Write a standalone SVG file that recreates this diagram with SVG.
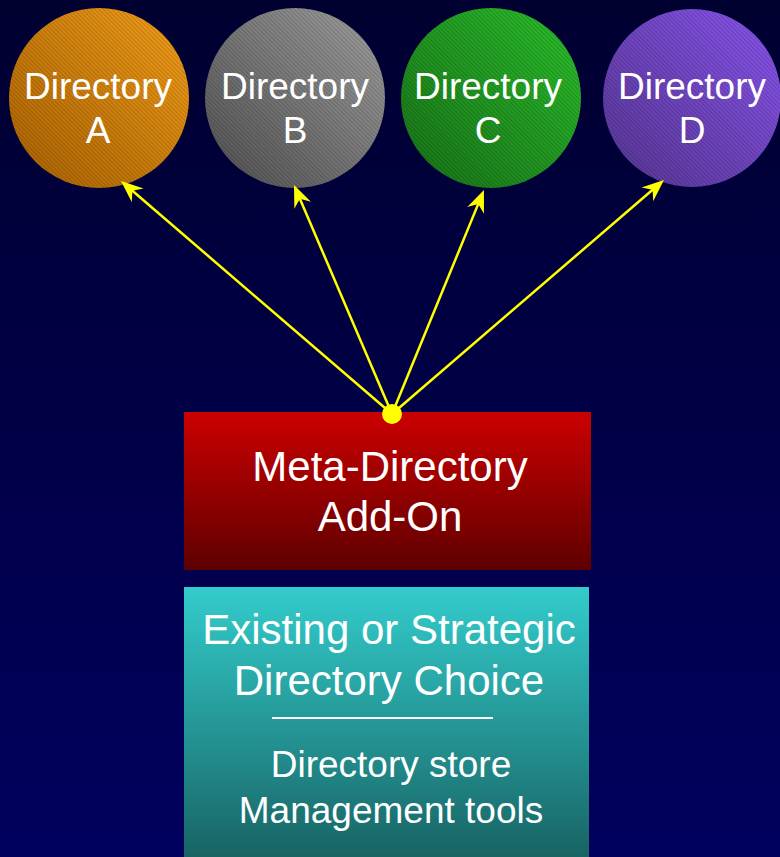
<svg xmlns="http://www.w3.org/2000/svg" width="780" height="857" viewBox="0 0 780 857">
  <defs>
    <linearGradient id="bg" x1="0" y1="0" x2="0" y2="1">
      <stop offset="0" stop-color="#000030"/>
      <stop offset="1" stop-color="#00005e"/>
    </linearGradient>
    <linearGradient id="gA" x1="0" y1="1" x2="1" y2="0">
      <stop offset="0" stop-color="#a65f00"/>
      <stop offset="1" stop-color="#f5a01a"/>
    </linearGradient>
    <linearGradient id="gB" x1="0" y1="1" x2="1" y2="0">
      <stop offset="0" stop-color="#4e4e4e"/>
      <stop offset="1" stop-color="#a0a0a0"/>
    </linearGradient>
    <linearGradient id="gC" x1="0" y1="1" x2="1" y2="0">
      <stop offset="0" stop-color="#176e17"/>
      <stop offset="1" stop-color="#2cc22c"/>
    </linearGradient>
    <linearGradient id="gD" x1="0" y1="1" x2="1" y2="0">
      <stop offset="0" stop-color="#553590"/>
      <stop offset="1" stop-color="#8a55f0"/>
    </linearGradient>
    <linearGradient id="gRed" x1="0" y1="0" x2="0" y2="1">
      <stop offset="0" stop-color="#cc0000"/>
      <stop offset="1" stop-color="#5e0000"/>
    </linearGradient>
    <linearGradient id="gTeal" x1="0" y1="0" x2="0" y2="1">
      <stop offset="0" stop-color="#33cccc"/>
      <stop offset="1" stop-color="#186464"/>
    </linearGradient>
    <!-- fine diagonal hatching laid over the directory discs -->
    <pattern id="hatch" width="3" height="3" patternUnits="userSpaceOnUse" patternTransform="rotate(-45)">
      <rect x="0" y="0" width="1" height="3" fill="#000000" fill-opacity="0.16"/>
    </pattern>
    <marker id="arrow" viewBox="-24 -10 26 20" refX="-12" refY="0" markerWidth="26" markerHeight="20" markerUnits="userSpaceOnUse" orient="auto">
      <path d="M0,0 L-22,-9 L-15,0 L-22,9 Z" fill="#ffff00"/>
    </marker>
  </defs>
  <style>
    .lbl { font-family: "Liberation Sans", Arial, sans-serif; fill: #ffffff; text-anchor: middle; }
    .dir { font-size: 37px; }
    .big { font-size: 42px; }
    .mid { font-size: 37px; }
    .conn { stroke: #ffff00; stroke-width: 2.5; fill: none; marker-end: url(#arrow); }
  </style>

  <rect x="0" y="0" width="780" height="857" fill="url(#bg)"/>

  <g id="dir-a">
    <circle cx="99" cy="98" r="90" fill="url(#gA)"/>
    <circle cx="99" cy="98" r="90" fill="url(#hatch)"/>
    <text class="lbl dir" x="98" y="99">Directory</text>
    <text class="lbl dir" x="98" y="143">A</text>
  </g>
  <g id="dir-b">
    <circle cx="295" cy="98" r="90" fill="url(#gB)"/>
    <circle cx="295" cy="98" r="90" fill="url(#hatch)"/>
    <text class="lbl dir" x="295" y="99">Directory</text>
    <text class="lbl dir" x="295" y="143">B</text>
  </g>
  <g id="dir-c">
    <circle cx="491" cy="98" r="90" fill="url(#gC)"/>
    <circle cx="491" cy="98" r="90" fill="url(#hatch)"/>
    <text class="lbl dir" x="488" y="99">Directory</text>
    <text class="lbl dir" x="488" y="143">C</text>
  </g>
  <g id="dir-d">
    <circle cx="692" cy="98" r="89" fill="url(#gD)"/>
    <circle cx="692" cy="98" r="89" fill="url(#hatch)"/>
    <text class="lbl dir" x="692" y="99">Directory</text>
    <text class="lbl dir" x="692" y="143">D</text>
  </g>

  <g id="meta-directory">
    <rect x="184" y="412" width="407" height="158" fill="url(#gRed)"/>
    <text class="lbl big" x="390" y="481">Meta-Directory</text>
    <text class="lbl big" x="390" y="531">Add-On</text>
  </g>

  <g id="directory-choice">
    <rect x="184" y="587" width="405" height="270" fill="url(#gTeal)"/>
    <text class="lbl big" x="389" y="644">Existing or Strategic</text>
    <text class="lbl big" x="389" y="695">Directory Choice</text>
    <line x1="272" y1="718" x2="493" y2="718" stroke="#ffffff" stroke-width="2"/>
    <text class="lbl mid" x="391" y="777">Directory store</text>
    <text class="lbl mid" x="391" y="823">Management tools</text>
  </g>

  <g id="connectors">
    <line class="conn" x1="392" y1="414" x2="130.1" y2="188.8"/>
    <line class="conn" x1="392" y1="414" x2="298.7" y2="196.0"/>
    <line class="conn" x1="392" y1="414" x2="479.4" y2="201.1"/>
    <line class="conn" x1="392" y1="414" x2="654.9" y2="187.8"/>
    <circle cx="392" cy="414" r="10" fill="#ffff00"/>
  </g>
</svg>
